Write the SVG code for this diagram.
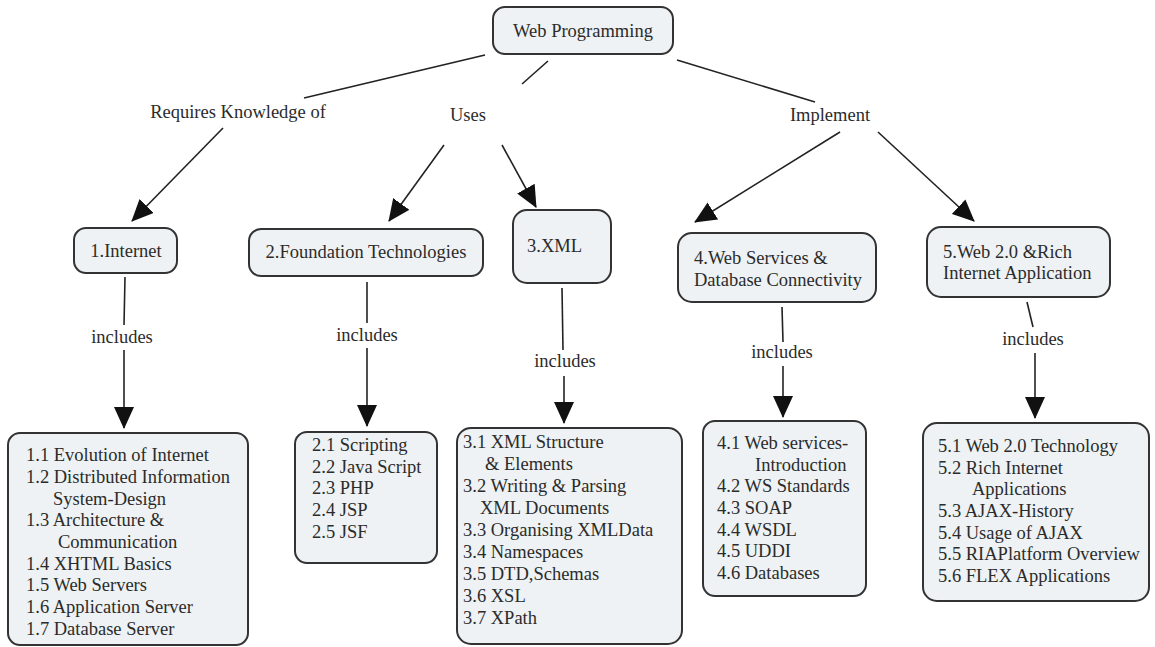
<svg xmlns="http://www.w3.org/2000/svg" width="1155" height="647" viewBox="0 0 1155 647">
  <defs>
    <marker id="head" markerUnits="userSpaceOnUse" markerWidth="22" markerHeight="20" viewBox="0 0 22 20" refX="21" refY="10" orient="auto">
      <path d="M0,0 L22,10 L0,20 Z" fill="#111"/>
    </marker>
    <style>
      .box { fill: #eef2f4; stroke: #333; stroke-width: 2; }
      .t { font-family: "Liberation Serif", "Times New Roman", serif; font-size: 18.5px; fill: #2b2b2b; }
      .c { text-anchor: middle; }
      .link { stroke: #222; stroke-width: 1.6; fill: none; }
      .arrow { stroke: #222; stroke-width: 1.6; fill: none; marker-end: url(#head); }
    </style>
  </defs>
  <rect width="1155" height="647" fill="#ffffff"/>

  <!-- connectors -->
  <g id="connectors">
    <line class="link" x1="485" y1="55" x2="304" y2="98"/>
    <line class="link" x1="548" y1="61" x2="522" y2="84"/>
    <line class="link" x1="677" y1="60" x2="815" y2="102"/>

    <line class="arrow" x1="223" y1="128" x2="132" y2="221"/>
    <line class="arrow" x1="444" y1="145" x2="389" y2="221"/>
    <line class="arrow" x1="502" y1="145" x2="536" y2="207"/>
    <line class="arrow" x1="840" y1="132" x2="695" y2="222"/>
    <line class="arrow" x1="878" y1="132" x2="974" y2="221"/>

    <line class="link" x1="125" y1="277" x2="124" y2="325"/>
    <line class="arrow" x1="124" y1="350" x2="124" y2="428"/>
    <line class="link" x1="367" y1="282" x2="367" y2="323"/>
    <line class="arrow" x1="367" y1="348" x2="367" y2="426"/>
    <line class="link" x1="562" y1="288" x2="563" y2="350"/>
    <line class="arrow" x1="564" y1="376" x2="564" y2="423"/>
    <line class="link" x1="782" y1="307" x2="783" y2="342"/>
    <line class="arrow" x1="783" y1="366" x2="783" y2="417"/>
    <line class="link" x1="1027" y1="302" x2="1033" y2="327"/>
    <line class="arrow" x1="1035" y1="353" x2="1035" y2="418"/>

    <text class="t c" x="238" y="118">Requires Knowledge of</text>
    <text class="t c" x="468" y="121">Uses</text>
    <text class="t c" x="830" y="121">Implement</text>
    <text class="t c" x="122" y="343">includes</text>
    <text class="t c" x="367" y="341">includes</text>
    <text class="t c" x="565" y="367">includes</text>
    <text class="t c" x="782" y="358">includes</text>
    <text class="t c" x="1033" y="345">includes</text>
  </g>

  <!-- root -->
  <g id="web-programming">
    <rect class="box" x="493" y="7" width="180" height="47" rx="12"/>
    <text class="t c" x="583" y="37">Web Programming</text>
  </g>

  <!-- topics -->
  <g id="internet">
    <rect class="box" x="74" y="228" width="103" height="45" rx="12"/>
    <text class="t c" x="126" y="257">1.Internet</text>
  </g>
  <g id="foundation">
    <rect class="box" x="249" y="229" width="234" height="47" rx="12"/>
    <text class="t c" x="366" y="258">2.Foundation Technologies</text>
  </g>
  <g id="xml">
    <rect class="box" x="513" y="210" width="98" height="73" rx="14"/>
    <text class="t" x="527" y="252">3.XML</text>
  </g>
  <g id="web-services">
    <rect class="box" x="678" y="233" width="198" height="69" rx="14"/>
    <text class="t" x="694" y="264">4.Web Services &amp;</text>
    <text class="t" x="694" y="286">Database Connectivity</text>
  </g>
  <g id="web20">
    <rect class="box" x="927" y="227" width="183" height="70" rx="14"/>
    <text class="t" x="943" y="258">5.Web 2.0 &amp;Rich</text>
    <text class="t" x="943" y="279">Internet Application</text>
  </g>

  <!-- subtopic lists -->
  <g id="internet-items">
    <rect class="box" x="8" y="433" width="240" height="212" rx="12"/>
    <text class="t" x="26" y="461">1.1 Evolution of Internet</text>
    <text class="t" x="26" y="483">1.2 Distributed Information</text>
    <text class="t" x="53" y="505">System-Design</text>
    <text class="t" x="26" y="526">1.3 Architecture &amp;</text>
    <text class="t" x="58" y="548">Communication</text>
    <text class="t" x="26" y="570">1.4 XHTML Basics</text>
    <text class="t" x="26" y="591">1.5 Web Servers</text>
    <text class="t" x="26" y="613">1.6 Application Server</text>
    <text class="t" x="26" y="635">1.7 Database Server</text>
  </g>
  <g id="foundation-items">
    <rect class="box" x="295" y="432" width="142" height="131" rx="12"/>
    <text class="t" x="312" y="451">2.1 Scripting</text>
    <text class="t" x="312" y="473">2.2 Java Script</text>
    <text class="t" x="312" y="494">2.3 PHP</text>
    <text class="t" x="312" y="516">2.4 JSP</text>
    <text class="t" x="312" y="538">2.5 JSF</text>
  </g>
  <g id="xml-items">
    <rect class="box" x="457" y="428" width="225" height="216" rx="14"/>
    <text class="t" x="463" y="448">3.1 XML Structure</text>
    <text class="t" x="485" y="470">&amp; Elements</text>
    <text class="t" x="463" y="492">3.2 Writing &amp; Parsing</text>
    <text class="t" x="480" y="514">XML Documents</text>
    <text class="t" x="463" y="536">3.3 Organising XMLData</text>
    <text class="t" x="463" y="558">3.4 Namespaces</text>
    <text class="t" x="463" y="580">3.5 DTD,Schemas</text>
    <text class="t" x="463" y="602">3.6 XSL</text>
    <text class="t" x="463" y="624">3.7 XPath</text>
  </g>
  <g id="web-services-items">
    <rect class="box" x="703" y="421" width="163" height="175" rx="12"/>
    <text class="t" x="717" y="449">4.1 Web services-</text>
    <text class="t" x="755" y="471">Introduction</text>
    <text class="t" x="717" y="492">4.2 WS Standards</text>
    <text class="t" x="717" y="514">4.3 SOAP</text>
    <text class="t" x="717" y="536">4.4 WSDL</text>
    <text class="t" x="717" y="557">4.5 UDDI</text>
    <text class="t" x="717" y="579">4.6 Databases</text>
  </g>
  <g id="web20-items">
    <rect class="box" x="923" y="423" width="226" height="178" rx="14"/>
    <text class="t" x="938" y="452">5.1 Web 2.0 Technology</text>
    <text class="t" x="938" y="474">5.2 Rich Internet</text>
    <text class="t" x="972" y="495">Applications</text>
    <text class="t" x="938" y="517">5.3 AJAX-History</text>
    <text class="t" x="938" y="539">5.4 Usage of AJAX</text>
    <text class="t" x="938" y="560">5.5 RIAPlatform Overview</text>
    <text class="t" x="938" y="582">5.6 FLEX Applications</text>
  </g>
</svg>
